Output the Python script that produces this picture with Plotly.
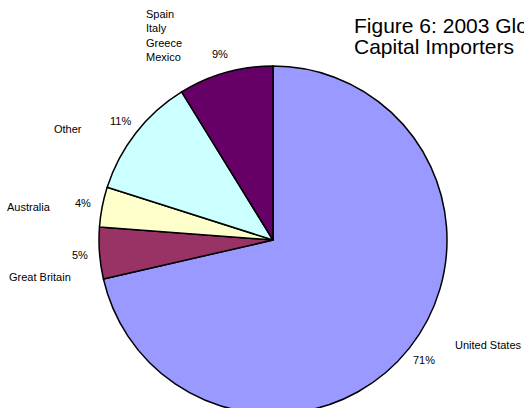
import math
import plotly.graph_objects as go

# ---- data ----
categories = ["United States", "Great Britain", "Australia", "Other", "Spain<br>Italy<br>Greece<br>Mexico"]
values = [71.4, 4.8, 3.7, 11.3, 8.8]
colors = ["#9999FF", "#993366", "#FFFFCC", "#CCFFFF", "#660066"]
title_lines = ["Figure 6: 2003 Global", "Capital Importers"]

# ---- layout constants (page pixels) ----
W, H = 524, 414              # figure slightly taller than the window: pie runs off the bottom
cx, cy, r = 273, 240, 174    # pie centre / radius
label_r = 1.11 * r
FONT = "Liberation Sans, Arial, sans-serif"

# name label placement relative to the percent label: (dx, dy, xanchor)
name_offsets = [(29, -15, "left"), (-7, 22, "right"), (-30, 4, "right"),
                (-37, 8, "right"), (-36, 3, "right")]

def px(x):
    return x / W

def py(y):
    return 1 - y / H

fig = go.Figure(go.Pie(
    labels=categories,
    values=values,
    sort=False,
    direction="clockwise",
    rotation=0,
    marker=dict(colors=colors, line=dict(color="black", width=1.5)),
    textinfo="none",
    hoverinfo="label+percent",
    showlegend=False,
    domain=dict(x=[px(cx - r), px(cx + r)], y=[max(0.0, py(cy + r)), py(cy - r)]),
))

annotations = []
total = sum(values)
cum = 0.0
for cat, v, (dx, dy, xa) in zip(categories, values, name_offsets):
    mid = (cum + v / 2) / total * 2 * math.pi
    cum += v
    lx = cx + label_r * math.sin(mid)
    ly = cy - label_r * math.cos(mid)
    pct = f"{round(v / total * 100):d}%"
    annotations.append(dict(x=px(lx), y=py(ly), xref="paper", yref="paper",
                            text=pct, showarrow=False, xanchor="center", yanchor="middle",
                            font=dict(family=FONT, size=11, color="black")))
    nlines = cat.count("<br>") + 1
    if nlines > 1:
        annotations.append(dict(x=px(lx + dx), y=py(ly + dy + 8), xref="paper", yref="paper",
                                text=cat, showarrow=False, xanchor=xa, yanchor="bottom",
                                align="left",
                                font=dict(family=FONT, size=11, color="black")))
    else:
        annotations.append(dict(x=px(lx + dx), y=py(ly + dy), xref="paper", yref="paper",
                                text=cat, showarrow=False, xanchor=xa, yanchor="middle",
                                font=dict(family=FONT, size=11, color="black")))

for i, line in enumerate(title_lines):
    annotations.append(dict(x=px(352), y=py(25 + 21 * i), xref="paper", yref="paper",
                            text=line, showarrow=False, xanchor="left", yanchor="middle",
                            align="left", font=dict(family=FONT, size=21, color="black")))

fig.update_layout(
    width=W, height=H,
    margin=dict(l=0, r=0, t=0, b=0),
    paper_bgcolor="white",
    plot_bgcolor="white",
    annotations=annotations,
)

fig.write_html(
    "out.html",
    config={"displayModeBar": False},
    post_script="document.body.style.margin='0';"
                "document.body.style.overflow='hidden';"
                "document.documentElement.style.overflow='hidden';",
)
